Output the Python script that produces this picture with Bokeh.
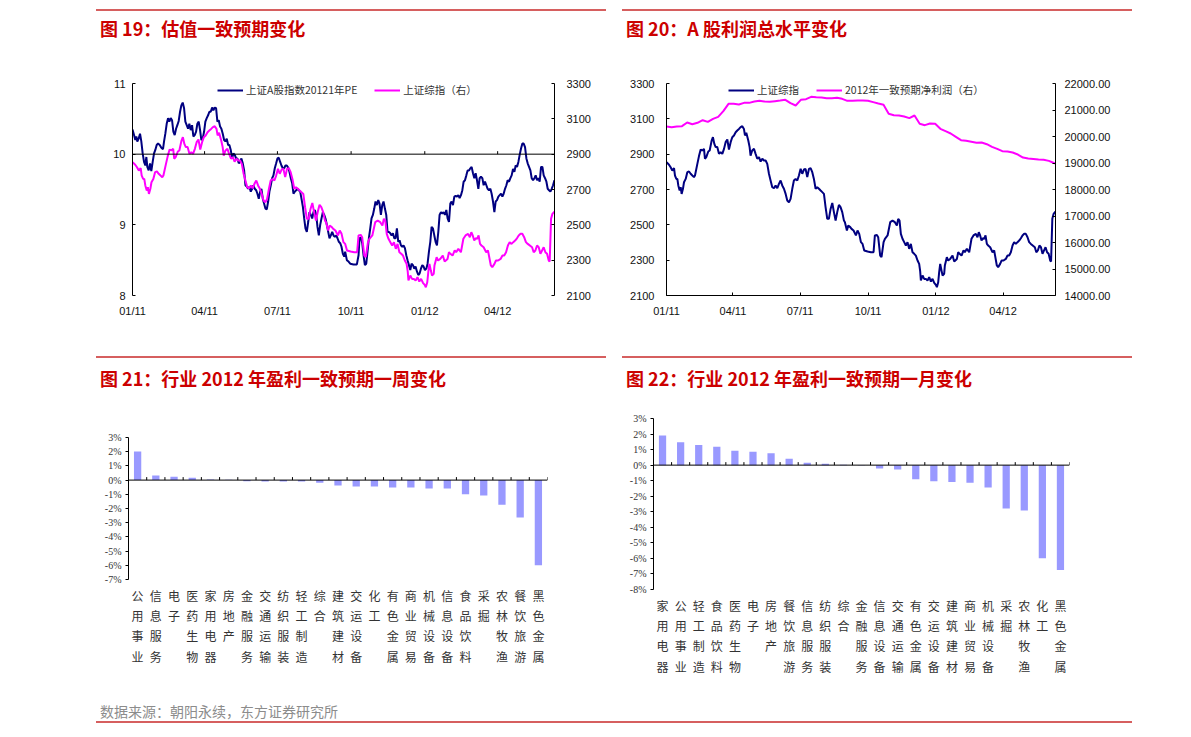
import pandas as pd
from bokeh.plotting import figure
from bokeh.models import (Range1d, LinearAxis, FixedTicker, CustomJSTickFormatter,
                          NumeralTickFormatter, PrintfTickFormatter, Legend, LegendItem,
                          Span, FactorRange, Div, Spacer)
from bokeh.layouts import row, column
from bokeh.embed import file_html
from bokeh.resources import INLINE

# ---------------- data ----------------
start_date = pd.Timestamp("2011-01-04")
end_day = 527  # 2012-06-14

# 上证A股指数2012年PE (days after 2011-01-04, value)
pe_days = [0, 1.9, 3.5, 4.8, 6.0, 7.7, 9.4, 11.0, 12.7, 14.4,
           16.0, 17.3, 18.5, 20.2, 21.9, 23.5, 25.2, 26.9, 28.5, 30.2,
           31.9, 34.0, 36.0, 38.1, 39.4, 41.0, 42.7, 44.4, 46.0, 47.7,
           49.4, 51.0, 52.7, 54.4, 56.0, 57.7, 59.4, 61.0, 62.7, 64.4,
           66.0, 67.7, 69.4, 71.0, 72.7, 74.4, 76.0, 77.7, 79.4, 81.0,
           82.7, 84.4, 86.0, 87.7, 89.4, 91.0, 92.7, 94.4, 96.0, 97.7,
           99.4, 101.0, 102.7, 104.4, 106.0, 107.7, 109.4, 111.0, 112.7, 114.4,
           116.0, 117.7, 119.4, 121.0, 122.7, 124.4, 126.0, 127.7, 129.4, 131.0,
           132.7, 134.4, 136.0, 137.7, 139.4, 141.0, 142.7, 144.4, 146.0, 147.7,
           149.4, 151.0, 152.7, 154.4, 156.0, 157.7, 159.4, 161.0, 162.7, 164.4,
           166.0, 167.7, 169.4, 171.0, 172.7, 174.4, 176.0, 177.7, 179.4, 181.0,
           182.7, 184.4, 186.0, 187.7, 189.4, 191.0, 192.7, 194.4, 196.0, 197.7,
           199.4, 201.0, 202.7, 204.4, 206.0, 207.7, 209.4, 211.0, 212.7, 214.4,
           216.0, 217.7, 219.4, 221.0, 222.7, 224.4, 226.0, 227.7, 229.4, 231.0,
           232.7, 234.4, 236.0, 237.7, 239.4, 241.0, 242.7, 244.4, 246.0, 247.7,
           249.4, 251.0, 252.7, 254.4, 256.0, 257.7, 259.4, 261.0, 262.7, 264.4,
           265.6, 267.7, 269.8, 271.9, 276.0, 280.2, 282.3, 283.5, 285.2, 286.9,
           288.5, 290.2, 291.9, 293.5, 295.2, 296.9, 298.5, 300.2, 301.9, 303.5,
           305.2, 306.9, 308.5, 310.2, 311.9, 313.5, 315.2, 316.9, 318.5, 320.2,
           321.9, 323.5, 325.2, 326.9, 328.5, 330.2, 331.9, 333.5, 335.2, 336.9,
           338.5, 340.2, 341.9, 343.5, 345.2, 346.9, 348.5, 350.2, 351.9, 353.5,
           355.2, 356.9, 358.5, 360.2, 361.9, 363.5, 365.2, 366.9, 368.5, 370.2,
           371.9, 373.5, 375.2, 376.9, 378.5, 380.2, 381.9, 383.5, 385.2, 386.9,
           388.5, 390.2, 391.9, 393.5, 395.2, 396.9, 398.5, 400.2, 401.9, 403.5,
           405.2, 406.9, 408.5, 410.2, 411.9, 413.5, 415.2, 416.9, 418.5, 420.2,
           421.9, 423.5, 425.2, 426.9, 428.5, 430.2, 431.9, 433.5, 435.2, 436.9,
           438.5, 440.2, 441.9, 443.5, 445.2, 446.9, 448.5, 450.2, 451.9, 453.5,
           455.2, 456.9, 458.5, 460.2, 461.9, 463.5, 465.2, 466.9, 468.5, 470.2,
           471.9, 473.5, 475.2, 476.9, 478.5, 480.2, 481.9, 483.5, 485.2, 486.9,
           488.5, 490.2, 491.9, 493.5, 495.2, 496.9, 498.5, 500.2, 501.9, 503.5,
           505.2, 506.9, 508.5, 510.2, 511.9, 513.5, 515.2, 516.9, 518.5, 520.2,
           521.9, 523.5, 525.2, 526.9]
pe_2012 = [10.35, 10.27, 10.20, 10.25, 10.18, 10.22, 10.29, 10.18, 10.01, 9.89,
           9.84, 9.96, 9.82, 9.77, 9.87, 9.76, 9.89, 10.01, 10.06, 10.13,
           10.15, 10.13, 10.09, 10.07, 10.18, 10.29, 10.43, 10.51, 10.46, 10.51,
           10.48, 10.32, 10.27, 10.36, 10.41, 10.47, 10.60, 10.69, 10.73, 10.65,
           10.46, 10.41, 10.36, 10.43, 10.34, 10.41, 10.25, 10.27, 10.32, 10.43,
           10.46, 10.34, 10.20, 10.22, 10.32, 10.46, 10.51, 10.55, 10.60, 10.60,
           10.66, 10.62, 10.66, 10.65, 10.46, 10.48, 10.39, 10.36, 10.29, 10.20,
           10.18, 10.22, 10.13, 10.13, 10.06, 9.94, 10.01, 9.99, 9.94, 9.94,
           9.87, 9.89, 9.94, 9.87, 9.77, 9.56, 9.54, 9.51, 9.54, 9.47,
           9.51, 9.56, 9.51, 9.49, 9.44, 9.37, 9.47, 9.51, 9.37, 9.30,
           9.23, 9.22, 9.33, 9.47, 9.56, 9.66, 9.70, 9.80, 9.87, 9.94,
           9.95, 9.89, 9.84, 9.80, 9.80, 9.84, 9.84, 9.81, 9.75, 9.66,
           9.59, 9.44, 9.47, 9.49, 9.51, 9.49, 9.47, 9.37, 9.26, 9.09,
           8.95, 8.90, 9.04, 9.18, 9.14, 9.09, 9.18, 9.21, 9.14, 8.97,
           8.85, 9.00, 9.09, 9.18, 9.14, 9.09, 9.00, 8.90, 8.81, 8.85,
           8.90, 8.85, 8.83, 8.85, 8.81, 8.76, 8.74, 8.69, 8.59, 8.55,
           8.62, 8.50, 8.48, 8.45, 8.44, 8.44, 8.57, 8.81, 8.82, 8.74,
           8.57, 8.43, 8.45, 8.62, 8.81, 8.95, 9.09, 9.14, 9.23, 9.33,
           9.28, 9.35, 9.30, 9.14, 9.28, 9.33, 9.23, 9.14, 8.90, 8.90,
           8.88, 8.85, 8.88, 8.81, 8.81, 8.95, 8.76, 8.78, 8.71, 8.69,
           8.71, 8.67, 8.57, 8.50, 8.43, 8.36, 8.45, 8.43, 8.38, 8.41,
           8.34, 8.29, 8.31, 8.38, 8.43, 8.41, 8.36, 8.38, 8.45, 8.62,
           8.76, 8.97, 8.95, 8.85, 8.76, 8.71, 8.90, 9.14, 9.18, 9.16,
           9.18, 9.14, 9.21, 9.09, 9.04, 9.30, 9.33, 9.28, 9.40, 9.41,
           9.40, 9.42, 9.38, 9.42, 9.49, 9.61, 9.63, 9.70, 9.77, 9.77,
           9.80, 9.82, 9.73, 9.66, 9.73, 9.63, 9.51, 9.66, 9.68, 9.66,
           9.56, 9.61, 9.56, 9.51, 9.49, 9.51, 9.44, 9.33, 9.18, 9.33,
           9.35, 9.40, 9.42, 9.44, 9.40, 9.44, 9.51, 9.56, 9.63, 9.61,
           9.66, 9.70, 9.79, 9.75, 9.84, 9.82, 9.89, 9.99, 10.08, 10.15,
           10.15, 10.10, 9.94, 9.87, 9.82, 9.77, 9.66, 9.63, 9.66, 9.70,
           9.63, 9.66, 9.61, 9.82, 9.82, 9.70, 9.66, 9.61, 9.51, 9.49,
           9.47, 9.51, 9.56, 9.63]

# 上证综指 (days after 2011-01-04, value)
sse_days = [0, 3.4, 5.6, 7.9, 10.2, 11.5, 13.3, 14.7, 16.0, 17.8,
            19.2, 20.5, 22.3, 23.7, 26.0, 28.2, 30.5, 32.7, 35.0, 37.2,
            38.6, 41.8, 44.0, 46.3, 48.5, 50.8, 52.1, 53.9, 56.6, 58.5,
            61.2, 62.9, 64.8, 66.6, 68.8, 71.1, 73.4, 75.6, 77.9, 80.1,
            82.4, 84.6, 86.9, 89.1, 91.4, 93.7, 95.9, 98.2, 100.4, 102.7,
            104.9, 106.3, 108.1, 110.8, 112.6, 113.9, 116.1, 118.5, 120.7, 123.0,
            125.3, 127.5, 129.8, 132.0, 134.3, 136.5, 138.8, 141.0, 143.3, 145.6,
            147.8, 150.1, 152.3, 154.6, 156.8, 159.1, 161.4, 163.6, 165.9, 168.1,
            170.4, 172.6, 174.9, 177.2, 179.4, 181.7, 183.9, 186.2, 188.4, 190.7,
            193.0, 195.2, 197.5, 199.7, 202.0, 204.2, 206.5, 208.8, 211.0, 213.3,
            215.5, 217.8, 220.0, 222.3, 224.6, 226.8, 229.1, 231.3, 233.6, 235.8,
            238.1, 240.4,
            241.7, 244.4, 246.2, 248.9, 250.7, 253.4, 256.6, 258.8, 261.1, 263.4,
            265.6, 267.9, 272.4, 276.9, 280.5, 282.3, 285.0, 286.8, 289.5, 291.3,
            294.1, 295.9, 299.5, 303.1, 306.2, 309.4, 312.1, 313.9, 315.7, 317.5,
            319.7, 322.0, 324.3, 326.5, 328.8, 331.0, 333.3, 335.6, 337.8, 340.1,
            342.3, 343.7, 344.6, 346.9, 349.1, 351.4, 353.6, 355.9, 358.2, 360.4,
            362.7, 364.9, 366.3, 368.1, 369.4, 370.8, 372.6, 374.0, 376.2, 377.1,
            379.8, 381.6, 384.3, 387.5, 389.8, 393.4, 395.2, 397.0, 399.7, 402.4,
            404.2, 406.9, 410.1, 413.2, 415.9, 419.1, 421.3, 423.1, 424.9, 426.8,
            428.6, 430.4, 432.2, 434.0, 435.8, 438.5, 441.7, 443.9, 447.5, 449.3,
            452.0, 453.9, 456.6, 459.7, 462.0, 464.2, 466.5, 468.8, 471.0, 473.3,
            475.5, 477.8, 480.1, 482.3, 484.6, 486.8, 489.1, 491.3, 493.6,
            499.0, 501.0, 503.1, 505.2, 507.3, 509.4, 511.5, 513.5, 515.6, 517.7,
            519.8, 521.0, 522.7, 524.4, 526.9]
sse_index = [2855, 2840, 2826, 2807, 2821, 2779, 2760, 2760, 2723, 2694,
             2713, 2675, 2704, 2741, 2760, 2798, 2802, 2789, 2779, 2770,
             2779, 2845, 2889, 2926, 2921, 2930, 2874, 2883, 2915, 2921,
             2977, 2996, 2958, 2940, 2940, 2902, 2911, 2902, 2930, 2968,
             2983, 2926, 2968, 2996, 3006, 3024, 3034, 3043, 3053, 3058,
             3043, 3006, 3021, 2977, 2940, 2892, 2921, 2930, 2902, 2874,
             2883, 2858, 2874, 2864, 2864, 2845, 2789, 2751, 2713, 2707,
             2723, 2707, 2732, 2751, 2723, 2704, 2675, 2638, 2628, 2647,
             2704, 2751, 2760, 2751, 2779, 2817, 2789, 2813, 2817, 2770,
             2817, 2821, 2798, 2760, 2704, 2713, 2704, 2694, 2685, 2675,
             2600, 2534, 2534, 2590, 2624, 2572, 2524, 2572, 2613, 2600,
             2572, 2524,
             2515, 2468, 2496, 2487, 2477, 2468, 2440, 2468, 2449, 2402,
             2392, 2355, 2349, 2345, 2345, 2440, 2443, 2430, 2326, 2317,
             2402, 2421, 2440, 2515, 2524, 2515, 2496, 2534, 2524, 2449,
             2421, 2402, 2383, 2402, 2364, 2392, 2345, 2336, 2326, 2298,
             2279, 2236, 2185, 2213, 2194, 2194, 2185, 2204, 2179, 2194,
             2172, 2160, 2147, 2175, 2232, 2279, 2241, 2213, 2223, 2270,
             2317, 2298, 2307, 2326, 2292, 2307, 2345, 2336, 2326, 2355,
             2345, 2364, 2345, 2421, 2440, 2449, 2430, 2458, 2440, 2411,
             2424, 2421, 2440, 2392, 2383, 2373, 2345, 2355, 2270, 2260,
             2279, 2298, 2298, 2307, 2326, 2326, 2345, 2383, 2402, 2392,
             2402, 2411, 2424, 2440, 2449, 2449, 2430, 2402, 2392,
             2373, 2345, 2355, 2383, 2373, 2336, 2355, 2373, 2345, 2336,
             2298, 2292, 2534, 2562, 2575]

# 2012年一致预期净利润 (weekly, days after 2011-01-04)
profit_days = list(range(0, 526, 7)) + [527]
profit_2012 = [20377, 20352, 20377, 20390, 20528, 20465, 20516, 20616, 20553, 20667,
               20742, 20956, 21233, 21233, 21207, 21270, 21270, 21321, 21346, 21321,
               21308, 21333, 21358, 21384, 21258, 21170, 21384, 21409, 21497, 21484,
               21472, 21446, 21446, 21459, 21421, 21346, 21346, 21358, 21358, 21346,
               21296, 21245, 21195, 20855, 20805, 20792, 20755, 20692, 20792, 20478,
               20428, 20490, 20478, 20289, 20201, 20113, 19987, 19861, 19836, 19799,
               19761, 19773, 19710, 19610, 19534, 19446, 19434, 19396, 19320, 19207,
               19170, 19150, 19130, 19120, 19080, 19000, 18980]

axis_tick_dates = ["2011-01-04", "2011-04-04", "2011-07-04", "2011-10-04", "2012-01-04", "2012-04-04"]
axis_tick_labels = ["01/11", "04/11", "07/11", "10/11", "01/12", "04/12"]

ind_week = ["公用事业", "信息服务", "电子", "医药生物", "家用电器", "房地产", "金融服务",
            "交通运输", "纺织服装", "轻工制造", "综合", "建筑建材", "交运设备", "化工",
            "有色金属", "商业贸易", "机械设备", "信息设备", "食品饮料", "采掘", "农林牧渔",
            "餐饮旅游", "黑色金属"]
chg_week = [2.02, 0.33, 0.24, 0.16, 0.05, 0.03, -0.08, -0.10, -0.10, -0.10, -0.19, -0.38,
            -0.45, -0.45, -0.52, -0.52, -0.59, -0.59, -0.99, -1.08, -1.74, -2.64, -6.00]

ind_month = ["家用电器", "公用事业", "轻工制造", "食品饮料", "医药生物", "电子", "房地产",
             "餐饮旅游", "信息服务", "纺织服装", "综合", "金融服务", "信息设备", "交通运输",
             "有色金属", "交运设备", "建筑建材", "商业贸易", "机械设备", "采掘", "农林牧渔",
             "化工", "黑色金属"]
chg_month = [1.91, 1.48, 1.29, 1.18, 0.92, 0.86, 0.77, 0.41, 0.15, 0.09, 0.02, -0.02,
             -0.21, -0.28, -0.90, -1.03, -1.09, -1.14, -1.44, -2.79, -2.92, -5.99, -6.74]

# ---------------- styles ----------------
TITLE_RED = "#CC0000"
RULE = "#D65F5F"
NAVY = "#000080"
MAGENTA = "#FF00FF"
BAR = "#9999FF"
NUM_FONT = "Liberation Sans"
SERIF_FONT = "Liberation Serif"
CJK_FONT = "Noto Sans CJK SC"

DAY_MS = 86400000.0
base_ms = start_date.value / 1e6


def to_ms(days):
    return [base_ms + d * DAY_MS for d in days]


x_pe = to_ms(pe_days)
x_sse = to_ms(sse_days)
x_pf = to_ms(profit_days)
x_start, x_end = base_ms, base_ms + end_day * DAY_MS
tick_ms = [pd.Timestamp(s).value / 1e6 for s in axis_tick_dates]


def date_fmt():
    return CustomJSTickFormatter(
        args=dict(tvals=tick_ms, tlabels=axis_tick_labels),
        code="const i = tvals.findIndex(t => Math.abs(t - tick) < 1e6); return i >= 0 ? tlabels[i] : '';")


def make_fig(w, h, bl, br, bt, bb, **kw):
    p = figure(width=w, height=h, output_backend="svg", toolbar_location=None,
               min_border_left=bl, min_border_right=br, min_border_top=bt,
               min_border_bottom=bb, **kw)
    p.frame_align = False
    p.outline_line_color = None
    p.xgrid.visible = False
    p.ygrid.visible = False
    p.background_fill_color = "white"
    p.border_fill_color = "white"
    return p


def style_axis(ax, font, size, standoff, tin, tout, line=True):
    ax.major_label_text_font = font
    ax.major_label_text_font_size = size
    ax.major_label_text_color = "#111111"
    ax.major_label_standoff = standoff
    ax.major_tick_in = tin
    ax.major_tick_out = tout
    ax.minor_tick_line_color = None
    ax.major_tick_line_color = "black" if (tin or tout) else None
    ax.axis_line_color = "black" if line else None


def style_legend(leg, x, y):
    leg.location = (x, y)
    leg.orientation = "horizontal"
    leg.label_text_font = CJK_FONT
    leg.label_text_font_size = "10.5px"
    leg.label_text_color = "#333333"
    leg.glyph_width = 26
    leg.glyph_height = 10
    leg.label_height = 10
    leg.label_standoff = 3
    leg.spacing = 17
    leg.padding = 0
    leg.margin = 0
    leg.border_line_color = None
    leg.background_fill_alpha = 0


# ---------------- figure 19 ----------------
p1 = make_fig(510, 270, 36, 52, 23, 35, x_axis_type="datetime",
              x_range=Range1d(x_start, x_end), y_range=Range1d(8, 11))
p1.extra_y_ranges = {"sse": Range1d(2100, 3300)}
r1 = LinearAxis(y_range_name="sse")
p1.add_layout(r1, "right")
xa = p1.below[0]
xa.ticker = FixedTicker(ticks=tick_ms)
xa.formatter = date_fmt()
style_axis(xa, NUM_FONT, "11px", 9, 0, 0, line=False)
la = p1.left[0]
la.ticker = FixedTicker(ticks=[8, 9, 10, 11])
style_axis(la, NUM_FONT, "11px", 7, 3, 0)
r1.ticker = FixedTicker(ticks=[2100, 2300, 2500, 2700, 2900, 3100, 3300])
style_axis(r1, NUM_FONT, "11px", 12, 3, 0)

p1.add_layout(Span(location=10, dimension="width", line_color="black", line_width=1))
tick_len1 = 3 * (11 - 8) / 212
p1.segment(x0=tick_ms, y0=[10] * len(tick_ms), x1=tick_ms,
           y1=[10 + tick_len1] * len(tick_ms), line_color="black", line_width=1)
l_pe = p1.line(x_pe, pe_2012, line_color=NAVY, line_width=2)
l_sse1 = p1.line(x_sse, sse_index, line_color=MAGENTA, line_width=2, y_range_name="sse")
leg1 = Legend(items=[LegendItem(label="上证A股指数20121年PE", renderers=[l_pe]),
                     LegendItem(label="上证综指（右）", renderers=[l_sse1])])
style_legend(leg1, 85, 198)
p1.add_layout(leg1)

# ---------------- figure 20 ----------------
p2 = make_fig(510, 270, 44, 77, 23, 35, x_axis_type="datetime",
              x_range=Range1d(x_start, x_end), y_range=Range1d(2100, 3300))
p2.extra_y_ranges = {"profit": Range1d(14000, 22000)}
r2 = LinearAxis(y_range_name="profit")
p2.add_layout(r2, "right")
xb = p2.below[0]
xb.ticker = FixedTicker(ticks=tick_ms)
xb.formatter = date_fmt()
style_axis(xb, NUM_FONT, "11px", 9, 3, 0)
lb = p2.left[0]
lb.ticker = FixedTicker(ticks=[2100, 2300, 2500, 2700, 2900, 3100, 3300])
style_axis(lb, NUM_FONT, "11px", 12, 3, 0)
r2.ticker = FixedTicker(ticks=[14000, 15000, 16000, 17000, 18000, 19000, 20000, 21000, 22000])
r2.formatter = NumeralTickFormatter(format="0.00")
style_axis(r2, NUM_FONT, "11px", 9, 3, 0)

l_sse2 = p2.line(x_sse, sse_index, line_color=NAVY, line_width=2)
l_pf = p2.line(x_pf, profit_2012, line_color=MAGENTA, line_width=2, y_range_name="profit")
leg2 = Legend(items=[LegendItem(label="上证综指", renderers=[l_sse2]),
                     LegendItem(label="2012年一致预期净利润（右）", renderers=[l_pf])])
style_legend(leg2, 62, 198)
p2.add_layout(leg2)


# ---------------- bar figures ----------------
def bar_fig(cats, vals, ymin, ymax, bl, br, bt, bb):
    factors = ["\n".join(c) for c in cats]
    p = make_fig(510, 285, bl, br, bt, bb,
                 x_range=FactorRange(factors=factors, range_padding=0),
                 y_range=Range1d(ymin, ymax))
    p.vbar(x=factors, top=vals, width=0.4, fill_color=BAR, line_color=None)
    xa_ = p.below[0]
    style_axis(xa_, CJK_FONT, "12px", 7, 0, 0, line=False)
    xa_.major_label_text_color = "#333333"
    xa_.major_label_text_line_height = 1.2
    ya_ = p.left[0]
    ya_.ticker = FixedTicker(ticks=list(range(ymin, ymax + 1)))
    ya_.formatter = PrintfTickFormatter(format="%d%%")
    style_axis(ya_, SERIF_FONT, "10px", 4, 0, 3)
    ya_.major_label_text_color = "#333333"
    p.add_layout(Span(location=0, dimension="width", line_color="black", line_width=1))
    frame_h = 285 - bt - bb
    tl = 3 * (ymax - ymin) / frame_h
    p.segment(x0=[[f, 0.5] for f in factors], y0=[0] * len(factors),
              x1=[[f, 0.5] for f in factors], y1=[tl] * len(factors),
              line_color="black", line_width=1)
    return p


p3 = bar_fig(ind_week, chg_week, -7, 3, 32, 59, 42, 101)
p4 = bar_fig(ind_month, chg_month, -8, 3, 31, 63, 23, 91)


# ---------------- layout ----------------
def sp(w, h):
    return Spacer(width=w, height=h, margin=0)


def rule(w):
    return Div(text="", width=w, height=2, margin=0, styles={"background-color": RULE})


def title_div(txt, w, h, pad):
    html = ('<div style="font-family:\'Noto Sans CJK SC\';font-size:18px;font-weight:bold;'
            'color:%s;line-height:22px;padding-top:%dpx;white-space:nowrap;margin:0">%s</div>'
            % (TITLE_RED, pad, txt))
    return Div(text=html, width=w, height=h, margin=0)


src_html = ('<div style="font-family:\'Noto Sans CJK SC\';font-size:14px;color:#8C8C8C;'
            'line-height:18px;padding-top:22px;white-space:nowrap;margin:0">'
            '数据来源：朝阳永续，东方证券研究所</div>')

root = column(
    sp(1132, 9),
    row(sp(96, 2), rule(510), sp(16, 2), rule(510)),
    row(sp(100, 49), title_div("图 19：估值一致预期变化", 506, 49, 6), sp(20, 49),
        title_div("图 20：A 股利润总水平变化", 506, 49, 6)),
    row(sp(96, 270), p1, sp(16, 270), p2),
    sp(1132, 26),
    row(sp(96, 2), rule(510), sp(16, 2), rule(510)),
    row(sp(100, 37), title_div("图 21：行业 2012 年盈利一致预期一周变化", 506, 37, 9), sp(20, 37),
        title_div("图 22：行业 2012 年盈利一致预期一月变化", 506, 37, 9)),
    row(sp(96, 285), p3, sp(16, 285), p4),
    row(sp(100, 41), Div(text=src_html, width=600, height=41, margin=0)),
    row(sp(96, 2), rule(1036)),
)

open("out.html", "w").write(file_html(root, INLINE, title="chart"))
